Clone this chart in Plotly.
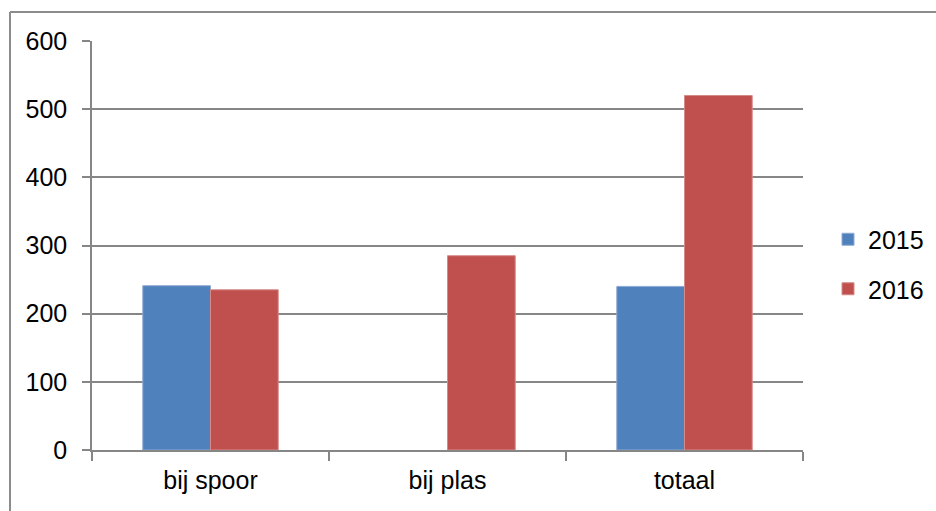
import plotly.graph_objects as go

# Counts per location, two years
categories = ["bij spoor", "bij plas", "totaal"]
years = ["2015", "2016"]
values_2015 = [241, None, 240]
values_2016 = [235, 285, 520]
y_ticks = [0, 100, 200, 300, 400, 500, 600]

BLUE = "#4F81BD"
RED = "#C0504D"
GREY = "#868686"
FONT = "Liberation Sans, Arial, sans-serif"

W, H = 936, 511
M_L, M_R, M_T, M_B = 92, 133, 41, 61
plot_w = W - M_L - M_R
plot_h = H - M_T - M_B

fig = go.Figure()
fig.add_trace(go.Bar(
    x=categories, y=values_2015, name=years[0], legendgroup="a",
    marker=dict(color=BLUE, line=dict(color="#8eaad3", width=1)),
))
fig.add_trace(go.Bar(
    x=categories, y=values_2016, name=years[1], legendgroup="b",
    marker=dict(color=RED, line=dict(color="#d68a88", width=1)),
))

# chart frame (left and top edges)
fx0 = (10 - M_L) / plot_w
fy0 = (H - M_B - 12) / plot_h
frame = dict(color="#8c8c8c", width=2)
fig.add_shape(type="line", xref="paper", yref="paper",
              x0=fx0, y0=fy0, x1=1.3, y1=fy0, line=frame)
fig.add_shape(type="line", xref="paper", yref="paper",
              x0=fx0, y0=fy0, x1=fx0, y1=-0.3, line=frame)

fig.update_layout(
    width=W, height=H,
    margin=dict(l=M_L, r=M_R, t=M_T, b=M_B, pad=0, autoexpand=False),
    paper_bgcolor="white", plot_bgcolor="white",
    font=dict(family=FONT, size=25, color="black"),
    barmode="group", bargap=1.5 / 3.5, bargroupgap=0,
    showlegend=True,
    legend=dict(
        x=(828 - M_L) / plot_w, xanchor="left",
        y=(H - M_B - 264) / plot_h, yanchor="middle",
        font=dict(family=FONT, size=25, color="black"),
        tracegroupgap=14, bgcolor="rgba(0,0,0,0)",
    ),
    xaxis=dict(
        type="category", showgrid=False, showline=True,
        linecolor=GREY, linewidth=1.5,
        ticks="outside", tickson="boundaries", ticklen=9,
        tickcolor=GREY, tickwidth=1.5,
        ticklabelstandoff=7,
    ),
    yaxis=dict(
        range=[0, 600], tickvals=y_ticks, ticktext=[str(v) for v in y_ticks],
        showgrid=True, gridcolor=GREY, gridwidth=1.5,
        showline=True, linecolor=GREY, linewidth=1.5,
        ticks="outside", ticklen=8, tickcolor=GREY, tickwidth=1.5,
        zeroline=False, ticklabelstandoff=10,
    ),
)

fig.write_html("out.html")
